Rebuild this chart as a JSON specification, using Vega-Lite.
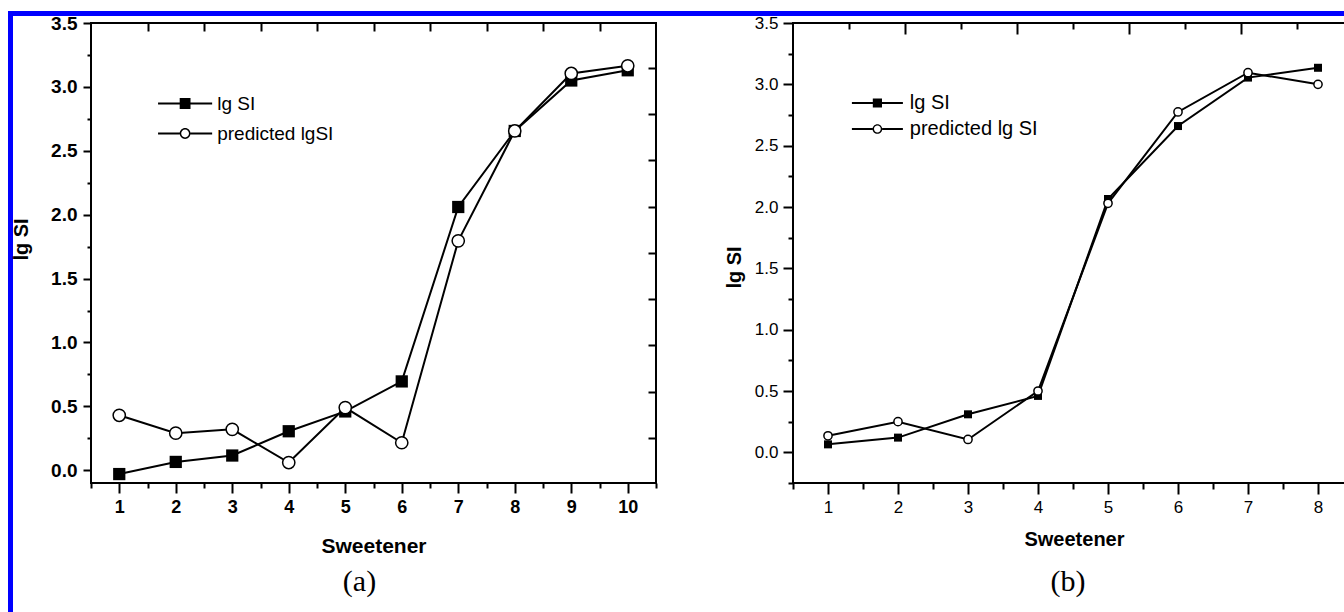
{
  "$schema": "https://vega.github.io/schema/vega-lite/v6.json",
  "padding": {"left": 7, "top": 10, "right": 0, "bottom": 0},
  "background": "white",
  "datasets": {
    "a": [
      {"s": 1, "v": -0.03, "series": "lg SI"},
      {"s": 2, "v": 0.065, "series": "lg SI"},
      {"s": 3, "v": 0.115, "series": "lg SI"},
      {"s": 4, "v": 0.305, "series": "lg SI"},
      {"s": 5, "v": 0.46, "series": "lg SI"},
      {"s": 6, "v": 0.695, "series": "lg SI"},
      {"s": 7, "v": 2.06, "series": "lg SI"},
      {"s": 8, "v": 2.655, "series": "lg SI"},
      {"s": 9, "v": 3.05, "series": "lg SI"},
      {"s": 10, "v": 3.13, "series": "lg SI"},
      {"s": 1, "v": 0.43, "series": "predicted lgSI"},
      {"s": 2, "v": 0.29, "series": "predicted lgSI"},
      {"s": 3, "v": 0.32, "series": "predicted lgSI"},
      {"s": 4, "v": 0.06, "series": "predicted lgSI"},
      {"s": 5, "v": 0.49, "series": "predicted lgSI"},
      {"s": 6, "v": 0.215, "series": "predicted lgSI"},
      {"s": 7, "v": 1.795, "series": "predicted lgSI"},
      {"s": 8, "v": 2.655, "series": "predicted lgSI"},
      {"s": 9, "v": 3.105, "series": "predicted lgSI"},
      {"s": 10, "v": 3.165, "series": "predicted lgSI"}
    ],
    "b": [
      {"s": 1, "v": 0.065, "series": "lg SI"},
      {"s": 2, "v": 0.12, "series": "lg SI"},
      {"s": 3, "v": 0.31, "series": "lg SI"},
      {"s": 4, "v": 0.46, "series": "lg SI"},
      {"s": 5, "v": 2.065, "series": "lg SI"},
      {"s": 6, "v": 2.66, "series": "lg SI"},
      {"s": 7, "v": 3.055, "series": "lg SI"},
      {"s": 8, "v": 3.135, "series": "lg SI"},
      {"s": 1, "v": 0.135, "series": "predicted lg SI"},
      {"s": 2, "v": 0.25, "series": "predicted lg SI"},
      {"s": 3, "v": 0.105, "series": "predicted lg SI"},
      {"s": 4, "v": 0.5, "series": "predicted lg SI"},
      {"s": 5, "v": 2.03, "series": "predicted lg SI"},
      {"s": 6, "v": 2.775, "series": "predicted lg SI"},
      {"s": 7, "v": 3.095, "series": "predicted lg SI"},
      {"s": 8, "v": 3.0, "series": "predicted lg SI"}
    ],
    "blank": [{"k": 0}]
  },
  "bounds": "flush",
  "spacing": 0,
  "hconcat": [
    {
      "width": 5, "height": 602,
      "data": {"name": "blank"},
      "mark": {"type": "point", "opacity": 0},
      "encoding": {},
      "view": {"fill": "#0000ff", "stroke": null}
    },
    {
      "bounds": "flush",
      "spacing": 7,
      "vconcat": [
        {
          "width": 1340, "height": 5,
          "data": {"name": "blank"},
          "mark": {"type": "point", "opacity": 0},
          "encoding": {},
          "view": {"fill": "#0000ff", "stroke": null}
        },
        {
          "bounds": "flush",
          "spacing": 77,
          "hconcat": [
            {
              "width": 1, "height": 1,
              "data": {"name": "blank"},
              "mark": {"type": "point", "opacity": 0},
              "encoding": {},
              "view": {"stroke": null}
            },
            {
              "bounds": "flush",
              "spacing": 137,
              "resolve": {"scale": {"shape": "independent"}, "legend": {"shape": "independent"}},
              "hconcat": [
                {
                  "width": 565, "height": 460,
                  "data": {"name": "a"},
                  "view": {"stroke": "black", "strokeWidth": 2},
                  "title": {"text": "(a)", "orient": "bottom", "anchor": "middle", "font": "Liberation Serif", "fontSize": 30, "fontWeight": "normal", "color": "black", "offset": 11, "dx": -14},
                  "layer": [
                    {
                      "mark": {"type": "line", "color": "black", "strokeWidth": 2},
                      "encoding": {
                        "x": {"field": "s", "type": "quantitative",
                          "scale": {"domain": [0.5, 10.5], "nice": false, "zero": false},
                          "axis": {"orient": "bottom", "values": [0.5,1,1.5,2,2.5,3,3.5,4,4.5,5,5.5,6,6.5,7,7.5,8,8.5,9,9.5,10,10.5],
                            "labelExpr": "datum.value % 1 === 0 ? format(datum.value, 'd') : ''",
                            "tickSize": {"condition": {"test": "datum.value % 1 !== 0", "value": 5}, "value": 10},
                            "labelFontSize": 18, "labelFontWeight": "bold", "labelPadding": 5,
                            "title": "Sweetener", "titleFontSize": 21, "titleFontWeight": "bold",
                            "titleX": 282.5, "titleY": 63, "titleBaseline": "middle", "titleAlign": "center"}},
                        "y": {"field": "v", "type": "quantitative",
                          "scale": {"domain": [-0.1, 3.5], "nice": false, "zero": false},
                          "axis": {"orient": "left", "values": [0,0.25,0.5,0.75,1,1.25,1.5,1.75,2,2.25,2.5,2.75,3,3.25,3.5],
                            "labelExpr": "datum.value % 0.5 === 0 ? format(datum.value, '.1f') : ''",
                            "tickSize": {"condition": {"test": "datum.value % 0.5 !== 0", "value": 4}, "value": 8},
                            "labelFontSize": 19, "labelFontWeight": "bold", "labelPadding": 6,
                            "title": "lg SI", "titleFontSize": 20, "titleFontWeight": "bold",
                            "titleX": -70, "titleY": 216, "titleBaseline": "middle", "titleAlign": "center", "titleAngle": -90}},
                        "detail": {"field": "series"}
                      }
                    },
                    {
                      "transform": [{"filter": "datum.s > 1000"}],
                      "mark": {"type": "point", "filled": true, "color": "black", "opacity": 1},
                      "encoding": {
                        "shape": {"field": "series", "type": "nominal",
                          "scale": {"domain": ["lg SI", "predicted lgSI"],
                            "range": ["M-5,-0.185H5V0.185H-5ZM-1,-1H1V1H-1Z",
                                      "M-5,-0.185H-1V0.185H-5ZM1,-0.185H5V0.185H1ZM1,0A1,1,0,1,1,-1,0A1,1,0,1,1,1,0ZM0.72,0A0.72,0.72,0,1,0,-0.72,0A0.72,0.72,0,1,0,0.72,0Z"]},
                          "legend": {"orient": "none", "legendX": 84.6, "legendY": 71, "title": null, "padding": 0,
                            "labelFontSize": 19, "labelOffset": 22.6, "symbolSize": 117, "rowPadding": 10,
                            "symbolFillColor": "black", "symbolStrokeWidth": 0, "symbolOpacity": 1}}
                      }
                    },
                    {
                      "transform": [{"filter": "datum.series === 'lg SI'"}],
                      "mark": {"type": "point", "shape": "square", "filled": true, "color": "black", "size": 150, "opacity": 1},
                      "encoding": {
                        "x": {"field": "s", "type": "quantitative",
                          "axis": {"orient": "top", "values": [1.5,2.5,3.5,4.5,5.5,6.5,7.5,8.5,9.5], "labels": false, "tickSize": -8, "title": null}},
                        "y": {"field": "v", "type": "quantitative",
                          "axis": {"orient": "right", "values": [0.253,0.615,0.977,1.339,1.701,2.063,2.425,2.787,3.149], "labels": false, "tickSize": -8, "title": null}}
                      }
                    },
                    {
                      "transform": [{"filter": "datum.series !== 'lg SI'"}],
                      "mark": {"type": "point", "shape": "circle", "filled": true, "fill": "white", "stroke": "black", "strokeWidth": 1.5, "size": 150, "opacity": 1},
                      "encoding": {
                        "x": {"field": "s", "type": "quantitative", "axis": null},
                        "y": {"field": "v", "type": "quantitative", "axis": null}
                      }
                    }
                  ]
                },
                {
                  "width": 560, "height": 460,
                  "data": {"name": "b"},
                  "view": {"stroke": "black", "strokeWidth": 2},
                  "title": {"text": "(b)", "orient": "bottom", "anchor": "middle", "font": "Liberation Serif", "fontSize": 30, "fontWeight": "normal", "color": "black", "offset": 18, "dx": -5},
                  "layer": [
                    {
                      "mark": {"type": "line", "color": "black", "strokeWidth": 2},
                      "encoding": {
                        "x": {"field": "s", "type": "quantitative",
                          "scale": {"domain": [0.5, 8.5], "nice": false, "zero": false},
                          "axis": {"orient": "bottom", "values": [0.5,1,1.5,2,2.5,3,3.5,4,4.5,5,5.5,6,6.5,7,7.5,8,8.5],
                            "labelExpr": "datum.value % 1 === 0 ? format(datum.value, 'd') : ''",
                            "tickSize": {"condition": {"test": "datum.value % 1 !== 0", "value": 6}, "value": 11},
                            "labelFontSize": 17, "labelFontWeight": "normal", "labelPadding": 5,
                            "title": "Sweetener", "titleFontSize": 20, "titleFontWeight": "bold",
                            "titleX": 281, "titleY": 56, "titleBaseline": "middle", "titleAlign": "center"}},
                        "y": {"field": "v", "type": "quantitative",
                          "scale": {"domain": [-0.25, 3.5], "nice": false, "zero": false},
                          "axis": {"orient": "left", "values": [-0.25,0,0.25,0.5,0.75,1,1.25,1.5,1.75,2,2.25,2.5,2.75,3,3.25,3.5],
                            "labelExpr": "datum.value % 0.5 === 0 ? format(datum.value, '.1f') : ''",
                            "tickSize": {"condition": {"test": "datum.value % 0.5 !== 0", "value": 5}, "value": 10},
                            "labelFontSize": 17, "labelFontWeight": "normal", "labelPadding": 5,
                            "title": "lg SI", "titleFontSize": 20, "titleFontWeight": "bold",
                            "titleX": -59, "titleY": 244, "titleBaseline": "middle", "titleAlign": "center", "titleAngle": -90}},
                        "detail": {"field": "series"}
                      }
                    },
                    {
                      "transform": [{"filter": "datum.s > 1000"}],
                      "mark": {"type": "point", "filled": true, "color": "black", "opacity": 1},
                      "encoding": {
                        "shape": {"field": "series", "type": "nominal",
                          "scale": {"domain": ["lg SI", "predicted lg SI"],
                            "range": ["M-5,-0.196H5V0.196H-5ZM-0.9,-0.9H0.9V0.9H-0.9Z",
                                      "M-5,-0.196H-0.95V0.196H-5ZM0.95,-0.196H5V0.196H0.95ZM0.95,0A0.95,0.95,0,1,1,-0.95,0A0.95,0.95,0,1,1,0.95,0ZM0.67,0A0.67,0.67,0,1,0,-0.67,0A0.67,0.67,0,1,0,0.67,0Z"]},
                          "legend": {"orient": "none", "legendX": 74.4, "legendY": 70, "title": null, "padding": 0,
                            "labelFontSize": 20, "labelOffset": 22.4, "symbolSize": 104, "rowPadding": 6,
                            "symbolFillColor": "black", "symbolStrokeWidth": 0, "symbolOpacity": 1}}
                      }
                    },
                    {
                      "transform": [{"filter": "datum.series === 'lg SI'"}],
                      "mark": {"type": "point", "shape": "square", "filled": true, "color": "black", "size": 64, "opacity": 1},
                      "encoding": {
                        "x": {"field": "s", "type": "quantitative",
                          "axis": {"orient": "top", "values": [1.3,2.1,2.9,3.7,4.5,5.3,6.1,6.9,7.7], "labels": false,
                            "tickSize": {"condition": {"test": "indexof([2.1,3.7,5.3,6.9], datum.value) >= 0", "value": -11}, "value": -6}, "title": null}},
                        "y": {"field": "v", "type": "quantitative",
                          "axis": {"orient": "right", "values": [0.5,1,1.5,2,2.5,3], "labels": false, "tickSize": -8, "title": null}}
                      }
                    },
                    {
                      "transform": [{"filter": "datum.series !== 'lg SI'"}],
                      "mark": {"type": "point", "shape": "circle", "filled": true, "fill": "white", "stroke": "black", "strokeWidth": 1.5, "size": 68, "opacity": 1},
                      "encoding": {
                        "x": {"field": "s", "type": "quantitative", "axis": null},
                        "y": {"field": "v", "type": "quantitative", "axis": null}
                      }
                    }
                  ]
                }
              ]
            }
          ]
        }
      ]
    }
  ],
  "config": {
    "font": "Liberation Sans",
    "axis": {"grid": false, "domain": false, "labelColor": "black", "titleColor": "black", "tickColor": "black", "tickWidth": 2,
      "labelOverlap": false, "labelFlush": false, "labelBound": false, "labelFont": "Liberation Sans", "titleFont": "Liberation Sans"},
    "legend": {"labelColor": "black", "labelFont": "Liberation Sans"},
    "title": {"color": "black"}
  }
}
